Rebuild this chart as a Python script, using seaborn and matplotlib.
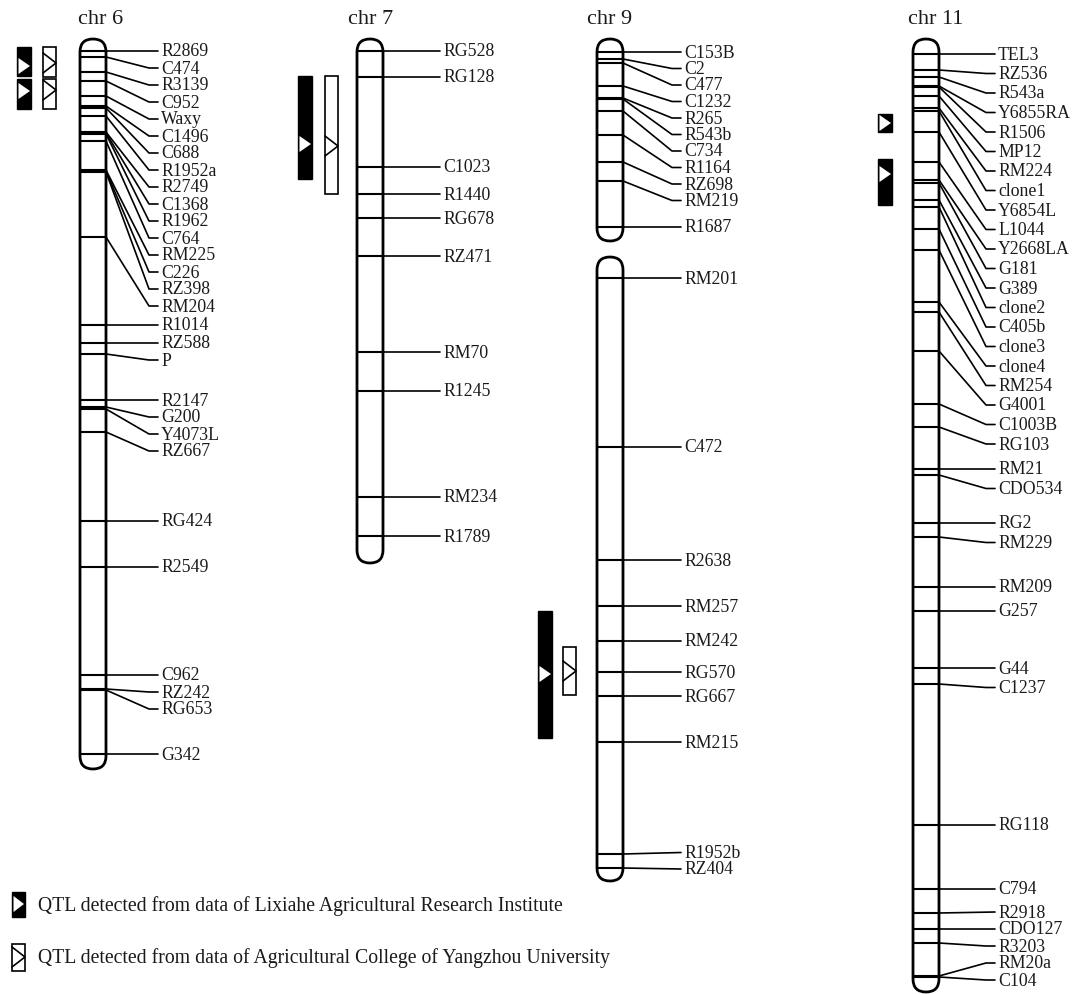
import matplotlib
matplotlib.use("Agg")
import matplotlib.pyplot as plt
from matplotlib.patches import FancyBboxPatch, Rectangle, Polygon
import seaborn as sns

# ---------------- data (map positions, units from the top of each chromosome) -------------
chr6_markers = ["R2869", "C474", "R3139", "C952", "Waxy", "C1496", "C688", "R1952a", "R2749",
                "C1368", "R1962", "C764", "RM225", "C226", "RZ398", "RM204", "R1014", "RZ588",
                "P", "R2147", "G200", "Y4073L", "RZ667", "RG424", "R2549", "C962", "RZ242",
                "RG653", "G342"]
chr6_pos = [12, 18, 33, 42, 57, 67, 69, 77, 93, 94, 95, 102, 131, 132, 133, 198, 286, 304,
            315, 361, 368, 370, 393, 482, 528, 636, 650, 651, 715]
chr6_length = 730

chr7_markers = ["RG528", "RG128", "C1023", "R1440", "RG678", "RZ471", "RM70", "R1245",
                "RM234", "R1789"]
chr7_pos = [12, 38, 128, 155, 179, 217, 313, 352, 458, 497]
chr7_length = 524

chr9a_markers = ["C153B", "C2", "C477", "C1232", "R265", "R543b", "C734", "R1164", "RZ698",
                 "RM219", "R1687"]
chr9a_pos = [13, 20, 24, 47, 59, 60, 72, 96, 123, 142, 188]
chr9a_span = (0, 202)

chr9b_markers = ["RM201", "C472", "R2638", "RM257", "RM242", "RG570", "RG667", "RM215",
                 "R1952b", "RZ404"]
chr9b_pos = [239, 408, 521, 567, 602, 633, 657, 703, 815, 829]
chr9b_span = (218, 842)

chr11_markers = ["TEL3", "RZ536", "R543a", "Y6855RA", "R1506", "MP12", "RM224", "clone1",
                 "Y6854L", "L1044", "Y2668LA", "G181", "G389", "clone2", "C405b", "clone3",
                 "clone4", "RM254", "G4001", "C1003B", "RG103", "RM21", "CDO534", "RG2",
                 "RM229", "RM209", "G257", "G44", "C1237", "RG118", "C794", "R2918",
                 "CDO127", "R3203", "RM20a", "C104"]
chr11_pos = [15, 31, 38, 47, 48, 57, 69, 72, 93, 123, 141, 144, 161, 168, 190, 211, 263, 273,
             312, 365, 388, 430, 436, 484, 498, 548, 572, 629, 645, 786, 850, 874, 890, 904,
             937, 938]
chr11_length = 953

# QTL intervals (start, end, peak)
qtl_lixiahe = {"6": [(8, 37, 27), (40, 70, 52)], "7": [(37, 140, 105)],
               "9": [(572, 699, 635)], "11": [(75, 93, 84), (120, 166, 135)]}
qtl_yangzhou = {"6": [(8, 38, 24), (40, 70, 51)], "7": [(37, 155, 107)],
                "9": [(608, 656, 632)]}

titles = {"6": "chr 6", "7": "chr 7", "9": "chr 9", "11": "chr 11"}
legend_texts = ["QTL detected from data of Lixiahe Agricultural Research Institute",
                "QTL detected from data of Agricultural College of Yangzhou University"]

# ---------------- layout ----------------
Y0 = 40          # pixel row of map position 0
W = 26           # chromosome width
LAYOUT = {
    "6": dict(x=80, title_x=101, label_dx=55, gap=17.0, qx={"L": 17, "Y": 43}),
    "7": dict(x=357, title_x=371, label_dx=60, gap=17.0, qx={"L": 298, "Y": 325}),
    "9": dict(x=597, title_x=610, label_dx=61, gap=16.5, qx={"L": 538, "Y": 563}),
    "11": dict(x=913, title_x=936, label_dx=59, gap=19.5, qx={"L": 878}),
}
groups = {
    "6": [(chr6_markers, chr6_pos, (0, chr6_length))],
    "7": [(chr7_markers, chr7_pos, (0, chr7_length))],
    "9": [(chr9a_markers, chr9a_pos, chr9a_span), (chr9b_markers, chr9b_pos, chr9b_span)],
    "11": [(chr11_markers, chr11_pos, (0, chr11_length))],
}

sns.set_theme(style="white")
plt.rcParams["font.family"] = ["Liberation Serif", "DejaVu Serif"]

fig = plt.figure(figsize=(10.75, 9.95), dpi=100)
ax = fig.add_axes([0, 0, 1, 1])
ax.set_xlim(0, 1075)
ax.set_ylim(995 - Y0, -Y0)
ax.axis("off")

LABEL_FS = 12.8
LEGEND_FS = 14.2
TITLE_FS = 16
TXT = "#1a1a1a"
MIN_GAP = 17


def spread(m, gap, lo, hi):
    up_gap = min(MIN_GAP, gap)
    lab = list(m)
    lab[0] = max(m[0], lo)
    for i in range(1, len(lab)):
        lab[i] = max(m[i], lab[i - 1] + gap)
    lab[-1] = min(lab[-1], hi)
    for i in range(len(lab) - 2, -1, -1):
        lab[i] = min(lab[i], lab[i + 1] - up_gap)
    return lab


for key, lay in LAYOUT.items():
    xl = lay["x"]
    xr = xl + W
    xt = xr + lay["label_dx"]
    ax.text(lay["title_x"], 19 - Y0, titles[key], fontsize=TITLE_FS, ha="center",
            va="center", color=TXT)
    for names, pos, (top, bot) in groups[key]:
        body = FancyBboxPatch((xl, top), W, bot - top,
                              boxstyle=f"round,pad=0,rounding_size={W / 2}",
                              facecolor="white", edgecolor="none", zorder=1)
        ax.add_patch(body)
        lc = ax.hlines(pos, xl, xr, colors="black", linewidth=1.5, zorder=2)
        lc.set_clip_path(body)
        ax.add_patch(FancyBboxPatch((xl, top), W, bot - top,
                                    boxstyle=f"round,pad=0,rounding_size={W / 2}",
                                    facecolor="none", edgecolor="black", linewidth=2.0,
                                    zorder=3))
        labs = spread(pos, lay["gap"], top + 9, bot - 12)
        for name, m, l in zip(names, pos, labs):
            if abs(l - m) < 2.0:
                ax.plot([xr, xt - 3], [m, l], color="black", lw=1.2, zorder=2)
            else:
                ax.plot([xr, xt - 12, xt - 3], [m, l, l], color="black", lw=1.2, zorder=2)
            ax.text(xt, l, name, fontsize=LABEL_FS, ha="left", va="center", color=TXT)

    # QTL bars
    for (s, e, p) in qtl_lixiahe.get(key, []):
        qx = lay["qx"]["L"]
        ax.add_patch(Rectangle((qx, s), 14, e - s, facecolor="black", edgecolor="black",
                               lw=1.0, zorder=3))
        h = min(8, (e - s) / 2 - 1)
        ax.add_patch(Polygon([(qx + 1.5, p - h), (qx + 13, p), (qx + 1.5, p + h)],
                             closed=True, facecolor="white", edgecolor="none", zorder=4))
    for (s, e, p) in qtl_yangzhou.get(key, []):
        qx = lay["qx"]["Y"]
        ax.add_patch(Rectangle((qx, s), 13, e - s, facecolor="white", edgecolor="black",
                               lw=1.2, zorder=3))
        h = min(10, (e - s) / 2)
        ax.plot([qx, qx + 13, qx], [p - h, p, p + h], color="black", lw=1.2, zorder=4)

# legend
ax.add_patch(Rectangle((12, 893 - Y0), 13, 25, facecolor="black", edgecolor="black", lw=1,
                       zorder=3))
ax.add_patch(Polygon([(13.5, 897 - Y0), (24, 905 - Y0), (13.5, 913 - Y0)], closed=True,
                     facecolor="white", edgecolor="none", zorder=4))
ax.add_patch(Rectangle((12, 945 - Y0), 13, 27, facecolor="white", edgecolor="black", lw=1.2,
                       zorder=3))
ax.plot([12, 25, 12], [948 - Y0, 958 - Y0, 968 - Y0], color="black", lw=1.2, zorder=4)
ax.text(38, 906 - Y0, legend_texts[0], fontsize=LEGEND_FS, ha="left", va="center", color=TXT)
ax.text(38, 958 - Y0, legend_texts[1], fontsize=LEGEND_FS, ha="left", va="center", color=TXT)

fig.savefig("out.png", dpi=100, facecolor="white")
